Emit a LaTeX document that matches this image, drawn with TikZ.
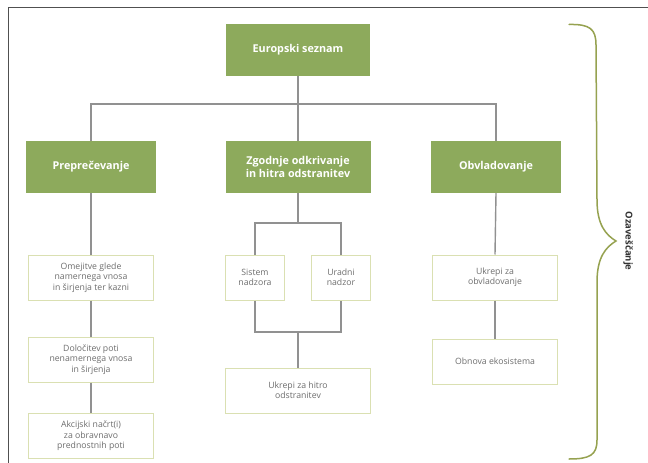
\documentclass[tikz,border=0pt]{standalone}
\usepackage{fontspec}
\setmainfont{Open Sans}
\definecolor{boxgreen}{RGB}{141,170,92}
\definecolor{paleborder}{RGB}{218,224,178}
\definecolor{linegray}{RGB}{145,145,145}
\definecolor{txtgray}{RGB}{110,110,110}
\definecolor{bracecol}{RGB}{150,162,80}
\definecolor{framegray}{RGB}{80,80,80}
\begin{document}
\begin{tikzpicture}[x=1pt,y=-1pt,
  greenbox/.style={fill=boxgreen,draw=none,text=white,font=\fontsize{10.8}{12.5}\selectfont\bfseries,align=center,inner sep=0pt},
  whitebox/.style={fill=white,draw=paleborder,line width=1pt,text=txtgray,font=\fontsize{8.7}{10.3}\selectfont,align=center,inner sep=0pt},
  conn/.style={draw=linegray,line width=1.4pt}]
\useasboundingbox (0,0) rectangle (648,463);
\fill[white] (0,0) rectangle (648,463);
% frame
\draw[framegray,line width=1pt] (8,463) -- (8,7.5) -- (648,7.5);
% top
\node[greenbox,minimum width=144pt,minimum height=52pt] (top) at (298,50) {Europski seznam};
% second level
\node[greenbox,minimum width=130pt,minimum height=52pt] (prep) at (91,167) {Preprečevanje};
\node[greenbox,minimum width=145pt,minimum height=52pt] (zgod) at (298,167) {Zgodnje odkrivanje\\in hitra odstranitev};
\node[greenbox,minimum width=130pt,minimum height=52pt] (obvl) at (496,167) {Obvladovanje};
% left column
\node[whitebox,minimum width=125pt,minimum height=45pt] (omej) at (91,277.5) {Omejitve glede\\namernega vnosa\\in širjenja ter kazni};
\node[whitebox,minimum width=125pt,minimum height=45pt] (dolo) at (91,359.5) {Določitev poti\\nenamernega vnosa\\in širjenja};
\node[whitebox,minimum width=125pt,minimum height=45pt] (akc) at (91,436) {Akcijski načrt(i)\\za obravnavo\\prednostnih poti};
% middle column
\node[whitebox,minimum width=59pt,minimum height=45pt] (sist) at (255,277.5) {Sistem\\nadzora};
\node[whitebox,minimum width=59pt,minimum height=45pt] (urad) at (341,277.5) {Uradni\\nadzor};
\node[whitebox,minimum width=145pt,minimum height=45pt] (hitr) at (298,390.5) {Ukrepi za hitro\\odstranitev};
% right column
\node[whitebox,minimum width=125pt,minimum height=45pt] (ukob) at (495,277.5) {Ukrepi za\\obvladovanje};
\node[whitebox,minimum width=125pt,minimum height=45pt] (obno) at (495,361.5) {Obnova ekosistema};
% connectors
\coordinate (hbar) at (298,104);
\coordinate (j1) at (298,223);
\coordinate (j2) at (298,332);
\draw[conn] (top.south) -- (hbar);
\draw[conn] (prep.north) |- (hbar) -| (obvl.north);
\draw[conn] (hbar) -- (zgod.north);
\draw[conn] (prep.south) -- (omej.north);
\draw[conn] (omej.south) -- (dolo.north);
\draw[conn] (dolo.south) -- (akc.north);
\draw[conn] (zgod.south) -- (j1);
\draw[conn] (sist.north) |- (j1) -| (urad.north);
\draw[conn] (sist.south) |- (j2) -| (urad.south);
\draw[conn] (j2) -- (hitr.north);
\draw[conn] (obvl.south) -- (ukob.north);
\draw[conn] (ukob.south) -- (obno.north);
% brace
\draw[bracecol,line width=1.5pt,line cap=round]
  (569,24.5) .. controls (590,24) and (596,29) .. (596,45)
  -- (597,200) .. controls (597,225) and (606,235) .. (616,241)
  .. controls (606,247) and (597,257) .. (597,282)
  -- (597,440) .. controls (597,455) and (590,459) .. (569,459);
\node[rotate=-90,font=\fontsize{9.5}{11}\selectfont\bfseries,text=black!80,inner sep=0pt] (oz) at (628,241) {Ozaveščanje};
\end{tikzpicture}
\end{document}
